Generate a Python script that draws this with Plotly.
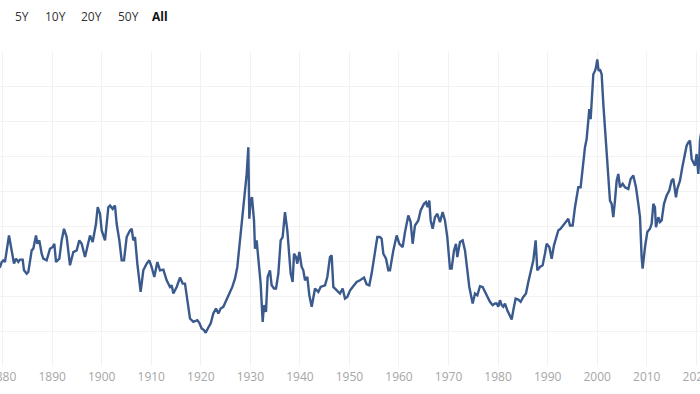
import plotly.graph_objects as go

years = [1879.0, 1879.48, 1879.81, 1880.15, 1880.48, 1881.29, 1882.30, 1882.70, 1883.17, 1883.51, 1884.05,
         1884.32, 1884.86, 1885.19, 1885.87, 1886.20, 1886.74, 1887.01, 1887.41, 1887.88, 1888.22,
         1888.89, 1889.57, 1890.10, 1890.44, 1890.78, 1891.45, 1891.92, 1892.39, 1892.93, 1893.60,
         1894.27, 1894.95, 1895.48, 1895.96, 1896.63, 1897.10, 1897.64, 1898.18, 1898.51, 1898.85,
         1899.19, 1899.66, 1900.00, 1900.67, 1901.34, 1901.68, 1902.21, 1902.68, 1903.02, 1903.56,
         1904.03, 1904.50, 1905.04, 1905.71, 1906.05, 1906.38, 1906.72, 1907.19, 1907.86, 1908.40,
         1909.07, 1909.61, 1910.08, 1910.62, 1911.23, 1911.77, 1912.44, 1913.11, 1913.78, 1914.12,
         1914.46, 1915.13, 1915.80, 1916.34, 1916.81, 1917.28, 1917.82, 1918.49, 1919.30, 1919.70,
         1920.17, 1920.64, 1920.98, 1921.52, 1921.99, 1922.53, 1923.07, 1923.54, 1924.01, 1924.55,
         1925.09, 1925.76, 1926.36, 1926.90, 1927.37, 1927.91, 1928.45, 1928.92, 1929.26, 1929.59,
         1929.79, 1930.06, 1930.33, 1930.74, 1930.94, 1931.27, 1931.61, 1932.08, 1932.49, 1932.75,
         1933.16, 1933.49, 1933.96, 1934.30, 1934.77, 1935.18, 1935.65, 1936.12, 1936.52, 1936.99,
         1937.46, 1937.87, 1938.14, 1938.54, 1938.81, 1939.21, 1939.48, 1939.89, 1940.36, 1940.69,
         1941.03, 1941.50, 1941.90, 1942.38, 1943.05, 1943.72, 1944.19, 1945.07, 1945.54, 1946.07,
         1946.41, 1946.75, 1947.08, 1947.55, 1948.09, 1948.63, 1949.10, 1949.57, 1950.11, 1950.65,
         1951.46, 1952.13, 1952.94, 1953.47, 1954.01, 1954.48, 1955.16, 1955.63, 1956.16, 1956.50,
         1956.84, 1957.38, 1957.85, 1958.18, 1958.86, 1959.53, 1960.07, 1960.74, 1961.21, 1961.88,
         1962.35, 1962.76, 1963.23, 1963.90, 1964.37, 1965.04, 1965.45, 1965.78, 1966.12, 1966.39,
         1966.79, 1967.26, 1967.73, 1968.27, 1968.81, 1969.28, 1969.75, 1970.29, 1970.63, 1971.10,
         1971.50, 1971.77, 1972.31, 1972.85, 1973.32, 1973.79, 1974.19, 1974.87, 1975.34, 1975.81,
         1976.35, 1976.88, 1977.35, 1977.83, 1978.36, 1978.90, 1979.37, 1979.71, 1980.04, 1980.38,
         1980.72, 1981.05, 1981.39, 1981.86, 1982.27, 1982.74, 1983.07, 1983.54, 1984.08, 1984.55,
         1985.09, 1985.63, 1986.10, 1986.57, 1987.11, 1987.58, 1987.92, 1988.45, 1988.99, 1989.46,
         1989.80, 1990.34, 1990.81, 1991.28, 1991.68, 1992.15, 1992.62, 1993.16, 1993.70, 1994.17,
         1994.51, 1995.05, 1995.52, 1996.19, 1996.66, 1997.06, 1997.53, 1997.87, 1998.21, 1998.41,
         1998.68, 1998.95, 1999.22, 1999.55, 1999.75, 2000.02, 2000.29, 2000.56, 2000.90, 2001.24,
         2001.57, 2001.91, 2002.24, 2002.58, 2002.92, 2003.25, 2003.59, 2003.93, 2004.26, 2004.60,
         2005.14, 2005.61, 2006.28, 2006.75, 2007.29, 2007.83, 2008.30, 2008.64, 2008.97, 2009.17,
         2009.65, 2010.12, 2010.65, 2010.99, 2011.33, 2011.66, 2011.86, 2012.34, 2012.67, 2013.01,
         2013.48, 2014.02, 2014.55, 2015.02, 2015.36, 2015.90, 2016.17, 2016.71, 2017.18, 2017.72,
         2018.05, 2018.39, 2018.73, 2019.06, 2019.73, 2020.07, 2020.41, 2020.61, 2020.74, 2021.0]

cape = [14.0, 14.19, 14.90, 15.14, 14.90, 18.71, 14.67, 15.38, 14.90, 15.24, 15.24,
        13.71, 13.24, 13.48, 16.57, 16.81, 18.71, 17.52, 18.00, 16.09, 15.38,
        15.14, 16.81, 17.05, 17.52, 14.90, 15.38, 18.00, 19.67, 18.48, 14.43,
        16.33, 16.57, 18.00, 17.52, 15.62, 17.05, 18.71, 17.76, 18.95, 20.38,
        22.76, 21.81, 19.43, 18.00, 22.76, 23.00, 22.52, 23.00, 20.38, 18.00,
        15.14, 15.14, 18.48, 19.43, 19.67, 18.00, 18.48, 14.67, 10.62, 13.71,
        14.67, 15.14, 14.19, 12.76, 14.90, 13.71, 13.81, 12.29, 11.33, 11.57,
        10.38, 11.33, 12.67, 11.81, 11.81, 9.43, 6.81, 6.33, 6.57, 6.19,
        5.38, 5.14, 4.76, 5.52, 6.10, 7.52, 8.24, 7.52, 8.24, 8.48,
        9.43, 10.38, 11.33, 12.52, 14.19, 18.00, 21.57, 25.62, 27.52, 31.33,
        21.10, 23.71, 24.19, 20.86, 16.81, 18.00, 15.14, 11.81, 6.33, 8.71,
        7.76, 12.76, 13.71, 11.57, 11.10, 11.10, 13.24, 18.00, 18.48, 22.05,
        19.43, 16.09, 13.24, 12.05, 16.09, 15.62, 14.67, 16.33, 14.19, 13.71,
        12.29, 12.76, 10.14, 8.48, 11.10, 10.62, 11.33, 11.57, 12.76, 15.62,
        15.86, 11.33, 11.10, 10.62, 10.38, 11.10, 9.67, 9.90, 10.80, 11.33,
        12.05, 12.29, 12.67, 11.71, 11.57, 13.24, 16.57, 18.48, 18.48, 18.24,
        16.09, 15.38, 13.71, 13.71, 16.57, 18.71, 17.52, 17.05, 19.19, 21.57,
        20.62, 17.52, 20.14, 20.86, 22.29, 23.24, 23.48, 22.76, 23.71, 20.86,
        19.67, 21.33, 21.81, 20.62, 22.05, 20.86, 18.48, 13.95, 13.95, 16.57,
        17.52, 15.62, 17.76, 18.00, 16.57, 13.71, 11.33, 8.95, 10.38, 10.14,
        11.43, 11.33, 10.62, 10.14, 9.19, 8.71, 8.95, 8.95, 8.48, 9.43,
        8.71, 8.48, 8.95, 8.00, 7.29, 6.67, 8.00, 9.67, 9.52, 9.19,
        9.90, 10.38, 12.05, 13.71, 15.14, 18.00, 13.71, 14.19, 14.43, 16.09,
        17.52, 17.05, 15.38, 17.29, 18.24, 19.43, 19.67, 20.14, 20.62, 21.10,
        20.14, 20.14, 22.76, 25.62, 25.62, 28.48, 31.33, 32.52, 35.62, 36.81,
        35.38, 38.00, 41.81, 42.29, 42.76, 43.95, 42.29, 42.52, 41.81, 37.52,
        34.19, 30.86, 28.24, 23.71, 23.24, 21.33, 23.71, 26.57, 27.52, 25.62,
        26.10, 25.62, 25.38, 26.81, 27.29, 25.62, 23.24, 21.33, 15.62, 13.95,
        17.05, 19.19, 19.67, 20.38, 23.24, 22.76, 19.90, 21.33, 20.62, 20.86,
        23.24, 24.43, 25.14, 26.57, 26.81, 24.19, 25.38, 26.57, 28.48, 30.38,
        31.57, 32.05, 32.29, 29.67, 28.71, 30.38, 27.52, 29.90, 32.29, 33.5]

range_buttons = ["5Y", "10Y", "20Y", "50Y", "All"]
tick_years = list(range(1880, 2030, 10))

fig = go.Figure()
fig.add_trace(go.Scatter(x=years, y=cape, mode="lines",
                         line=dict(color="#3a5a8d", width=2.4), hoverinfo="skip"))

btn_x = [22, 55, 91, 128, 160]
for label, bx in zip(range_buttons, btn_x):
    active = label == "All"
    fig.add_annotation(x=bx / 700, y=(366 - 16) / 314, xref="paper", yref="paper",
                       text=f"<b>{label}</b>" if active else label, showarrow=False,
                       xanchor="center", yanchor="middle",
                       font=dict(family="Open Sans", size=12,
                                 color="#111111" if active else "#333333"))

fig.update_layout(
    width=700, height=394,
    margin=dict(l=0, r=0, t=52, b=28, autoexpand=False),
    paper_bgcolor="white", plot_bgcolor="white",
    showlegend=False,
    xaxis=dict(range=[1879.475, 2020.75], tickvals=tick_years,
               ticktext=[str(t) for t in tick_years],
               showgrid=True, gridcolor="#f2f2f2", gridwidth=1,
               zeroline=False, showline=False, ticks="",
               automargin=False, ticklabeloverflow="allow", ticklabelstandoff=2,
               tickfont=dict(family="Open Sans", size=12, color="#a6a6a6")),
    yaxis=dict(range=[0, 45], dtick=5, showticklabels=False,
               showgrid=True, gridcolor="#f2f2f2", gridwidth=1,
               zeroline=False, showline=False, ticks="", automargin=False),
)

fig.write_html("out.html", config={"displayModeBar": False},
               post_script="document.body.style.margin='0px';document.body.style.overflow='hidden';")
